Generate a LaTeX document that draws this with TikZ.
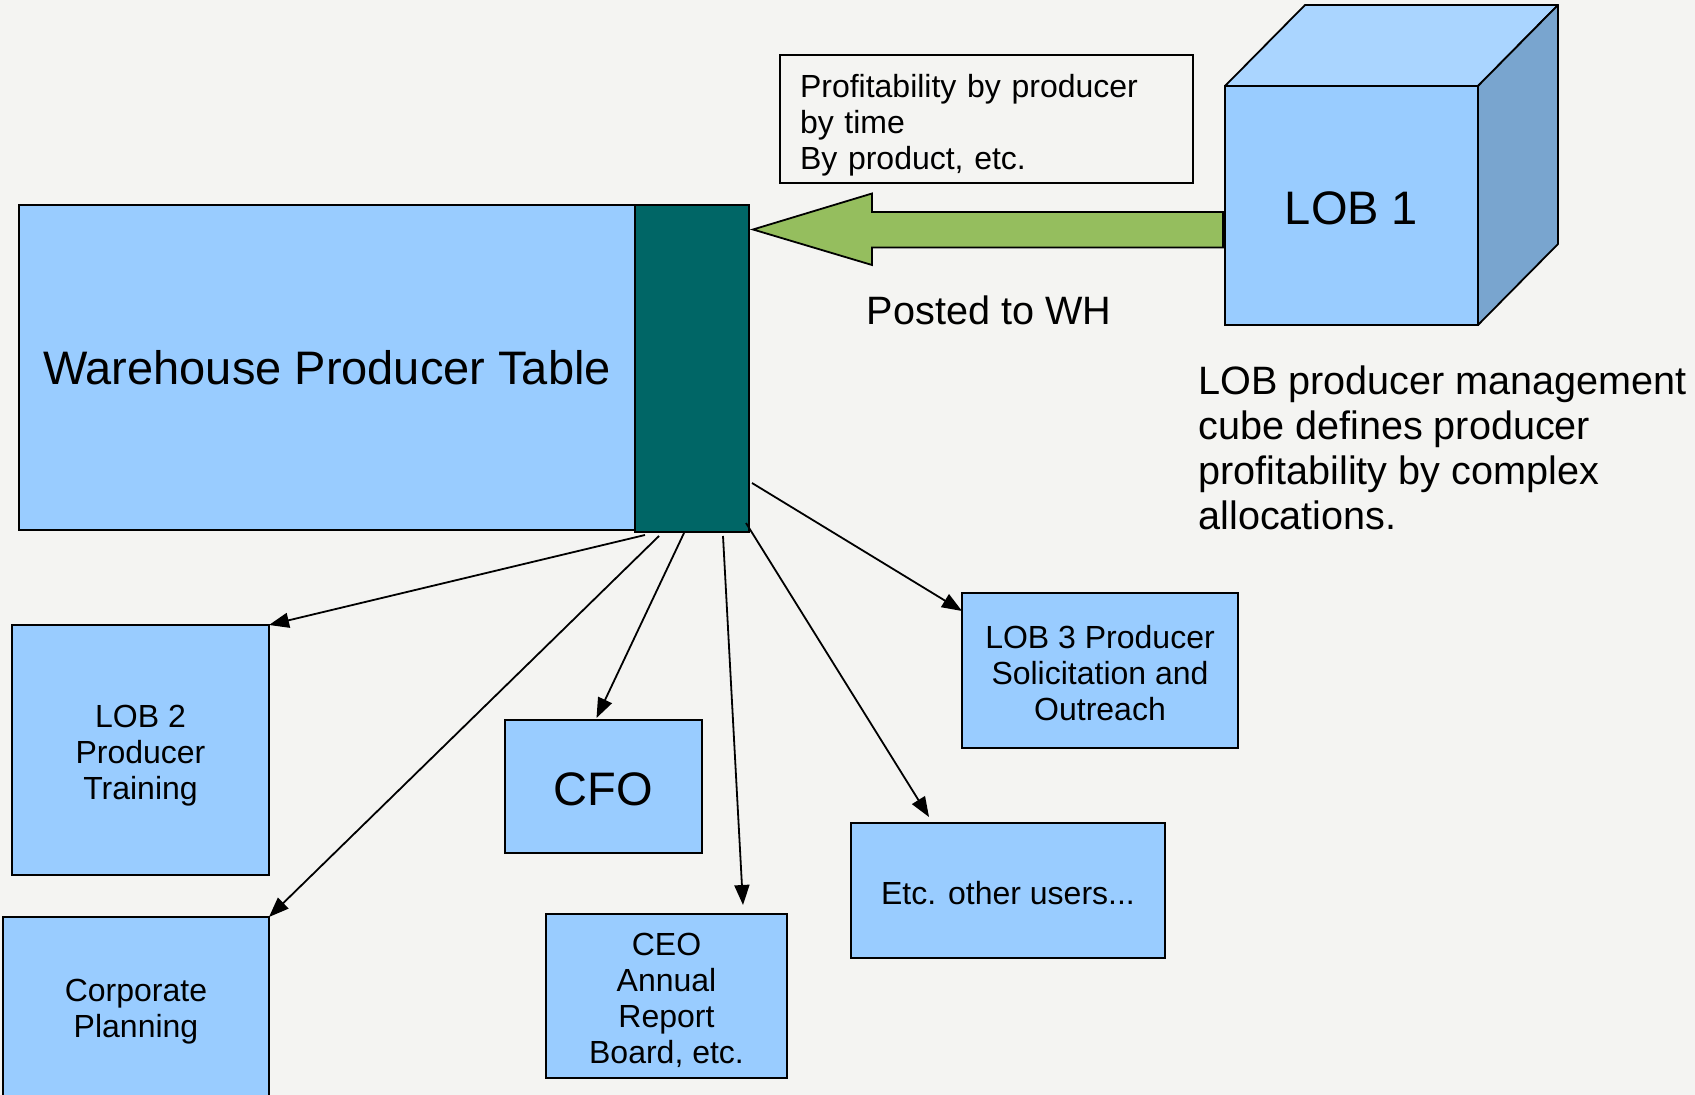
\documentclass[tikz,border=0pt]{standalone}
\usepackage{fontspec}
\setmainfont{Liberation Sans}
\usetikzlibrary{arrows.meta,calc}
\definecolor{boxblue}{HTML}{99CCFF}
\definecolor{keyteal}{HTML}{006666}
\definecolor{postgreen}{HTML}{95BE5E}
\definecolor{cubetop}{HTML}{AAD5FF}
\definecolor{cubeside}{HTML}{79A5CF}
\definecolor{paper}{HTML}{F4F4F2}
\newcommand{\lift}[1]{\rule{0pt}{#1}}

\begin{document}
\begin{tikzpicture}[x=0.5pt, y=-0.5pt,
    block/.style={
        rectangle, draw, fill=boxblue, line width=0.9pt,
        align=center, inner sep=2pt, outer sep=0pt
    },
    drop/.style={execute at begin node={\lift{#1}}},
    small/.style={font=\fontsize{16}{18}\selectfont},
    mid/.style={font=\fontsize{19.8}{22.5}\selectfont},
    big/.style={font=\fontsize{23.5}{28}\selectfont},
    arrow/.style={-{Triangle[length=10pt,width=7.5pt]}, line width=0.9pt},
    post/.style={draw, line width=0.9pt, fill=postgreen, line join=miter}
]
\path[use as bounding box, fill=paper] (0,0) rectangle (1695,1095);

% Warehouse table with its key column
\node[block, big, minimum width=307.75pt, minimum height=162.5pt] (WH) at (327, 367.5) {Warehouse Producer Table};
\node[block, fill=keyteal, minimum width=57pt, minimum height=163.5pt] (Key) at (692, 368.5) {};

% LOB 1 cube
\node[block, big, drop=19pt, minimum width=126.5pt, minimum height=119.5pt] (LOB1) at (1351.5, 205.5) {LOB 1};
\draw[line width=0.9pt, fill=cubetop, line join=round] (LOB1.north west) -- ++(80,-81) -- ($(LOB1.north east)+(80,-81)$) -- (LOB1.north east) -- cycle;
\draw[line width=0.9pt, fill=cubeside, line join=round] (LOB1.north east) -- ++(80,-81) -- ($(LOB1.south east)+(80,-81)$) -- (LOB1.south east) -- cycle;

\node[draw, line width=0.9pt, small, drop=18pt, text width=186.5pt, align=left, inner xsep=10pt, minimum height=63pt] (Info) at (986.5, 119) {Profitability by producer\\by time\\By product, etc.};

% posting arrow into the warehouse
\draw[post] (1223,212) -- (872,212) -- (872,193.5) -- (753,229.5) -- (872,265) -- (872,247.5) -- (1223,247.5) -- cycle;
\node[mid] (Posted) at (989, 310) {Posted to WH};
\node[mid, align=left, anchor=west, inner sep=0pt] (Desc) at (1198, 447.5) {LOB producer management\\cube defines producer\\profitability by complex\\allocations.};

% users of the warehouse
\node[block, small, minimum width=128.5pt, minimum height=125pt] (LOB2) at (140.5, 750) {\lift{16.9pt}LOB 2\\Producer\\Training};
\node[block, small, minimum width=133pt, minimum height=90pt] (Corp) at (136, 1007) {\lift{15.9pt}Corporate\\Planning};
\node[block, big, drop=19pt, minimum width=98.5pt, minimum height=66.5pt] (CFO) at (603.5, 786.5) {CFO};
\node[block, small, minimum width=120.5pt, minimum height=82pt] (CEO) at (666.5, 996) {\lift{15.3pt}CEO\\Annual\\Report\\Board, etc.};
\node[block, small, minimum width=138pt, minimum height=77.5pt] (LOB3) at (1100, 670.5) {\lift{14.2pt}LOB 3 Producer\\Solicitation and\\Outreach};
\node[block, small, drop=14pt, minimum width=157pt, minimum height=67.5pt] (Etc) at (1008, 890.5) {Etc. other users...};

% feeds
\draw[arrow] ($(Key.south west)+(10,3)$) -- (LOB2.north east);
\draw[arrow] ($(Key.south west)+(24,4)$) -- (Corp.north east);
\draw[arrow] ($(Key.south west)+(49,1)$) -- ($(CFO.north)+(-7,-2)$);
\draw[arrow] ($(Key.south west)+(88,4)$) -- ($(CEO.north east)+(-44,-9)$);
\draw[arrow] ($(Key.south east)+(-3,-9)$) -- ($(Etc.north west)+(78,-6)$);
\draw[arrow] ($(Key.south east)+(3,-49)$) -- ($(LOB3.north west)+(0,18)$);

\end{tikzpicture}
\end{document}
